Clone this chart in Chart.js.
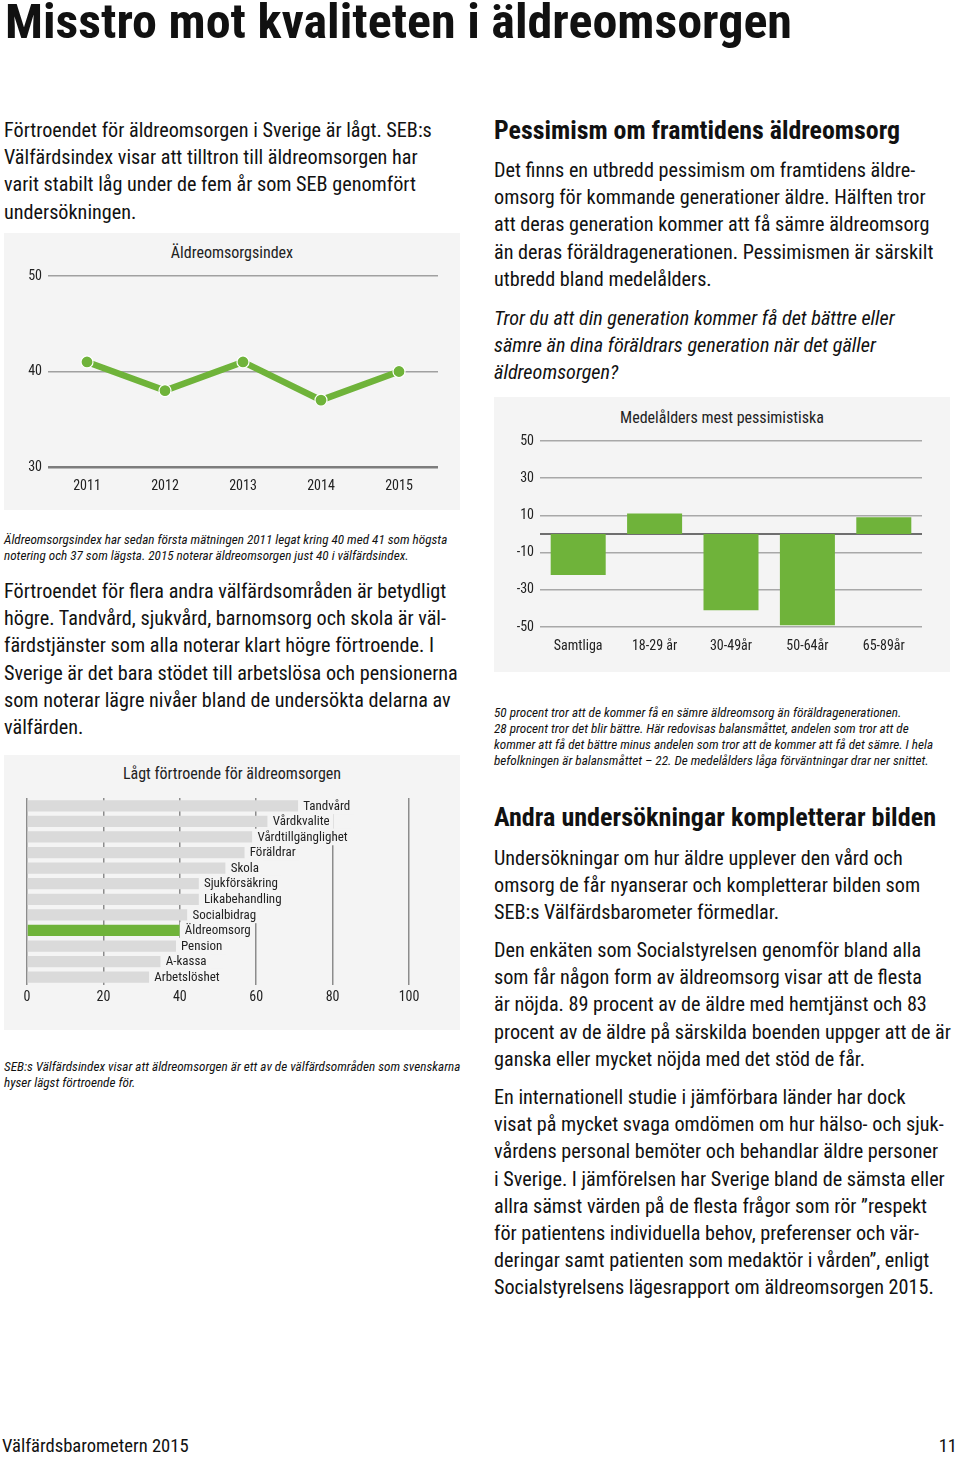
<!DOCTYPE html>
<html lang="sv">
<head>
<meta charset="utf-8">
<title>Misstro mot kvaliteten i äldreomsorgen</title>
<script src="https://cdn.jsdelivr.net/npm/chart.js@4.4.1/dist/chart.umd.min.js"></script>
<style>
  html, body { margin: 0; padding: 0; background: #fff; }
  body { width: 960px; height: 1457px; position: relative; overflow: hidden; color: #111;
         font-family: "Liberation Sans Narrow", "Roboto Condensed", "DejaVu Sans Condensed", sans-serif; }
  .abs { position: absolute; white-space: nowrap; }
  .title { left: 5px; top: -6px; font-size: 48px; font-weight: bold; line-height: 56px; transform-origin: 0 0; }
  .p { font-size: 20.2px; line-height: 27.2px; }
  .h { font-size: 25px; font-weight: bold; line-height: 30px; transform-origin: 0 0; }
  .q { font-size: 20.2px; line-height: 27.2px; font-style: italic; }
  .cap { font-size: 13.2px; line-height: 16px; font-style: italic; }
  .panel { position: absolute; background: #f4f4f4; }
  .panel canvas { position: absolute; left: 0; top: 0; }
  .ptitle { position: absolute; left: 0; width: 100%; text-align: center; font-size: 16px; color: #222; }
  .foot { font-size: 18.6px; }
</style>
</head>
<body>

<div class="abs title" data-w="787">Misstro mot kvaliteten i äldreomsorgen</div>

<div class="abs p" style="left:4px; top:117px;">Förtroendet för äldreomsorgen i Sverige är lågt. SEB:s<br>Välfärdsindex visar att tilltron till äldreomsorgen har<br>varit stabilt låg under de fem år som SEB genomfört<br>undersökningen.</div>

<div class="panel" style="left:4px; top:233px; width:456px; height:277px;">
  <div class="ptitle" style="top:10px;">Äldreomsorgsindex</div>
  <canvas id="indexChart" width="456" height="277"></canvas>
</div>

<div class="abs cap" style="left:4px; top:532px;">Äldreomsorgsindex har sedan första mätningen 2011 legat kring 40 med 41 som högsta<br>notering och 37 som lägsta. 2015 noterar äldreomsorgen just 40 i välfärdsindex.</div>

<div class="abs p" style="left:4px; top:578px;">Förtroendet för flera andra välfärdsområden är betydligt<br>högre. Tandvård, sjukvård, barnomsorg och skola är väl-<br>färdstjänster som alla noterar klart högre förtroende. I<br>Sverige är det bara stödet till arbetslösa och pensionerna<br>som noterar lägre nivåer bland de undersökta delarna av<br>välfärden.</div>

<div class="panel" style="left:4px; top:755px; width:456px; height:275px;">
  <div class="ptitle" style="top:9px;">Lågt förtroende för äldreomsorgen</div>
  <canvas id="trustChart" width="456" height="275"></canvas>
</div>

<div class="abs cap" style="left:4px; top:1059px;">SEB:s Välfärdsindex visar att äldreomsorgen är ett av de välfärdsområden som svenskarna<br>hyser lägst förtroende för.</div>

<div class="abs h" style="left:494px; top:116px;" data-w="406">Pessimism om framtidens äldreomsorg</div>

<div class="abs p" style="left:494px; top:157px;">Det finns en utbredd pessimism om framtidens äldre-<br>omsorg för kommande generationer äldre. Hälften tror<br>att deras generation kommer att få sämre äldreomsorg<br>än deras föräldragenerationen. Pessimismen är särskilt<br>utbredd bland medelålders.</div>

<div class="abs q" style="left:494px; top:305px;">Tror du att din generation kommer få det bättre eller<br>sämre än dina föräldrars generation när det gäller<br>äldreomsorgen?</div>

<div class="panel" style="left:494px; top:397px; width:456px; height:275px;">
  <div class="ptitle" style="top:11px;">Medelålders mest pessimistiska</div>
  <canvas id="ageChart" width="456" height="275"></canvas>
</div>

<div class="abs cap" style="left:494px; top:705px;">50 procent tror att de kommer få en sämre äldreomsorg än föräldragenerationen.<br>28 procent tror det blir bättre. Här redovisas balansmåttet, andelen som tror att de<br>kommer att få det bättre minus andelen som tror att de kommer att få det sämre. I hela<br>befolkningen är balansmåttet – 22. De medelålders låga förväntningar drar ner snittet.</div>

<div class="abs h" style="left:494px; top:803px;" data-w="442">Andra undersökningar kompletterar bilden</div>

<div class="abs p" style="left:494px; top:845px;">Undersökningar om hur äldre upplever den vård och<br>omsorg de får nyanserar och kompletterar bilden som<br>SEB:s Välfärdsbarometer förmedlar.</div>

<div class="abs p" style="left:494px; top:937px;">Den enkäten som Socialstyrelsen genomför bland alla<br>som får någon form av äldreomsorg visar att de flesta<br>är nöjda. 89 procent av de äldre med hemtjänst och 83<br>procent av de äldre på särskilda boenden uppger att de är<br>ganska eller mycket nöjda med det stöd de får.</div>

<div class="abs p" style="left:494px; top:1084px;">En internationell studie i jämförbara länder har dock<br>visat på mycket svaga omdömen om hur hälso- och sjuk-<br>vårdens personal bemöter och behandlar äldre personer<br>i Sverige. I jämförelsen har Sverige bland de sämsta eller<br>allra sämst värden på de flesta frågor som rör ”respekt<br>för patientens individuella behov, preferenser och vär-<br>deringar samt patienten som medaktör i vården”, enligt<br>Socialstyrelsens lägesrapport om äldreomsorgen 2015.</div>

<div class="abs foot" style="left:2px; top:1435px;">Välfärdsbarometern 2015</div>
<div class="abs foot" style="right:3px; top:1435px;">11</div>

<script>
// Äldreomsorgsindex
const indexYears = ['2011', '2012', '2013', '2014', '2015'];
const indexValues = [41, 38, 41, 37, 40];
const indexTicks = [30, 40, 50];

// Balansmått per åldersgrupp
const ageGroups = ['Samtliga', '18-29 år', '30-49år', '50-64år', '65-89år'];
const balanceValues = [-22, 11, -41, -49, 9];
const balanceTicks = [-50, -30, -10, 10, 30, 50];

// Förtroende för välfärdsområden
const areas = ['Tandvård', 'Vårdkvalite', 'Vårdtillgänglighet', 'Föräldrar', 'Skola', 'Sjukförsäkring',
               'Likabehandling', 'Socialbidrag', 'Äldreomsorg', 'Pension', 'A-kassa', 'Arbetslöshet'];
const trustValues = [71, 63, 59, 57, 52, 45, 45, 42, 40, 39, 35, 32];
const trustTicks = [0, 20, 40, 60, 80, 100];
const highlightArea = 'Äldreomsorg';

const FONT = '"Liberation Sans Narrow", "Roboto Condensed", "DejaVu Sans Condensed", sans-serif';
const GREEN = '#6fb33a';
const PANEL = '#f4f4f4';

Chart.defaults.font.family = FONT;
Chart.defaults.color = '#222';
Chart.defaults.animation = false;

// bredda/smalna rubriker till samma bredd som originalet
document.querySelectorAll('[data-w]').forEach(el => {
    const w = el.getBoundingClientRect().width;
    el.style.transform = 'scaleX(' + (parseFloat(el.dataset.w) / w) + ')';
});

function fixedTicks(values) {
    return function(scale) {
        scale.ticks = values.map(v => ({ value: v }));
    };
}

// Linjediagram
new Chart(document.getElementById('indexChart'), {
    type: 'line',
    data: {
        labels: indexYears,
        datasets: [{
            data: indexValues,
            borderColor: GREEN,
            borderWidth: 6.5,
            pointRadius: 6,
            pointBackgroundColor: GREEN,
            pointBorderColor: '#fff',
            pointBorderWidth: 1.2,
            tension: 0
        }]
    },
    options: {
        responsive: false,
        layout: { padding: { left: 0, right: 22, top: 43, bottom: 0 } },
        plugins: { legend: { display: false }, tooltip: { enabled: false } },
        scales: {
            x: {
                offset: true,
                grid: { display: false },
                border: { display: false },
                ticks: { font: { size: 14 }, padding: 3 },
                afterFit: s => { s.height = 43; }
            },
            y: {
                min: 30, max: 50,
                afterBuildTicks: fixedTicks(indexTicks),
                border: { display: false },
                grid: {
                    drawTicks: false,
                    color: c => c.tick && c.tick.value === 30 ? '#7d7d7d' : '#a0a0a0',
                    lineWidth: c => c.tick && c.tick.value === 30 ? 2.5 : 1.5
                },
                ticks: { font: { size: 14 }, padding: 6 },
                afterFit: s => { s.width = 44; }
            }
        }
    }
});

// Nollinje i stapeldiagrammet
const zeroLine = {
    id: 'zeroLine',
    beforeDatasetsDraw(chart) {
        const { ctx, chartArea, scales } = chart;
        const y = scales.y.getPixelForValue(0);
        ctx.save();
        ctx.strokeStyle = '#6e6e6e';
        ctx.lineWidth = 2;
        ctx.beginPath();
        ctx.moveTo(chartArea.left, y);
        ctx.lineTo(chartArea.right, y);
        ctx.stroke();
        ctx.restore();
    }
};

new Chart(document.getElementById('ageChart'), {
    type: 'bar',
    data: {
        labels: ageGroups,
        datasets: [{
            data: balanceValues,
            backgroundColor: GREEN,
            barPercentage: 0.72,
            categoryPercentage: 1
        }]
    },
    options: {
        responsive: false,
        layout: { padding: { left: 0, right: 28, top: 44, bottom: 0 } },
        plugins: { legend: { display: false }, tooltip: { enabled: false } },
        scales: {
            x: {
                grid: { display: false },
                border: { display: false },
                ticks: { font: { size: 14 }, padding: 3 },
                afterFit: s => { s.height = 45; }
            },
            y: {
                min: -50, max: 50,
                afterBuildTicks: fixedTicks(balanceTicks),
                border: { display: false },
                grid: { drawTicks: false, color: '#a8a8a8', lineWidth: 1.5 },
                ticks: { font: { size: 14 }, padding: 6 },
                afterFit: s => { s.width = 46; }
            }
        }
    },
    plugins: [zeroLine]
});

// Etiketter vid stapelns slut, med bakgrund som döljer rutnätet
const endLabels = {
    id: 'endLabels',
    afterDatasetsDraw(chart) {
        const { ctx } = chart;
        const meta = chart.getDatasetMeta(0);
        const step = chart.scales.y.height / areas.length;
        ctx.save();
        ctx.font = '13px ' + FONT;
        ctx.textBaseline = 'middle';
        meta.data.forEach((bar, i) => {
            const w = ctx.measureText(areas[i]).width;
            ctx.fillStyle = PANEL;
            ctx.fillRect(bar.x, bar.y - step / 2 - 0.5, w + 9, step + 1);
            ctx.fillStyle = '#222';
            ctx.fillText(areas[i], bar.x + 5, bar.y + 0.5);
        });
        ctx.restore();
    }
};

new Chart(document.getElementById('trustChart'), {
    type: 'bar',
    data: {
        labels: areas,
        datasets: [{
            data: trustValues,
            backgroundColor: areas.map(a => a === highlightArea ? GREEN : '#dadada'),
            barPercentage: 0.72,
            categoryPercentage: 1
        }]
    },
    options: {
        indexAxis: 'y',
        responsive: false,
        layout: { padding: { left: 23, right: 51, top: 43, bottom: 0 } },
        plugins: { legend: { display: false }, tooltip: { enabled: false } },
        scales: {
            x: {
                min: 0, max: 100,
                afterBuildTicks: fixedTicks(trustTicks),
                border: { display: false },
                grid: { drawTicks: false, color: '#8c8c8c', lineWidth: 1.5 },
                ticks: { font: { size: 14 }, padding: 4 },
                afterFit: s => { s.height = 45; }
            },
            y: { display: false }
        }
    },
    plugins: [endLabels]
});
</script>
</body>
</html>
